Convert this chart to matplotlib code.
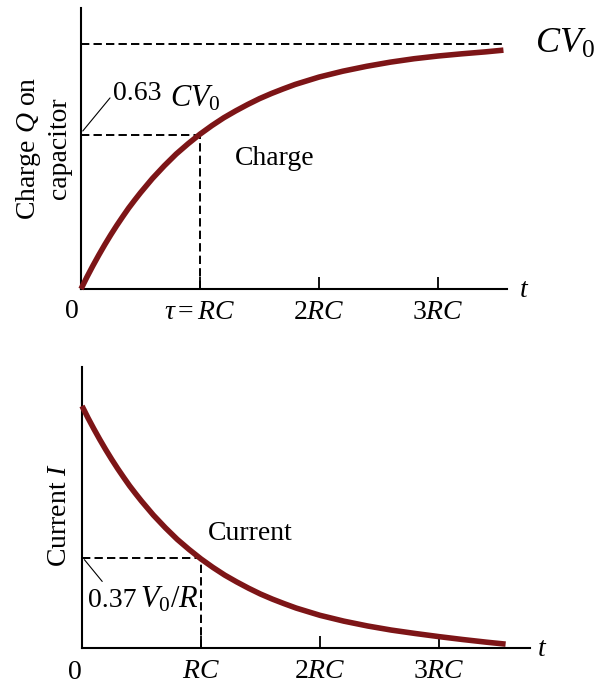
import matplotlib
matplotlib.use("Agg")
import matplotlib.pyplot as plt

plt.rcParams['font.family'] = ['Liberation Serif', 'DejaVu Serif']
plt.rcParams['mathtext.fontset'] = 'custom'
plt.rcParams['mathtext.rm'] = 'Liberation Serif'
plt.rcParams['mathtext.it'] = 'Liberation Serif:italic'
plt.rcParams['mathtext.bf'] = 'Liberation Serif:bold'
plt.rcParams['lines.scale_dashes'] = False

# ---- data (time in units of RC) ----
t_charge = [0, 0.05, 0.1, 0.15, 0.2, 0.25, 0.3, 0.35, 0.4, 0.45, 0.5, 0.6, 0.7, 0.8,
            0.9, 1.0, 1.1, 1.2, 1.3, 1.4, 1.5, 1.6, 1.7, 1.8, 1.9, 2.0, 2.2, 2.4,
            2.6, 2.8, 3.0, 3.2, 3.4, 3.55]
q_charge = [0, 0.049, 0.095, 0.139, 0.181, 0.221, 0.259, 0.295, 0.330, 0.362, 0.393,
            0.451, 0.503, 0.551, 0.593, 0.632, 0.667, 0.699, 0.727, 0.753, 0.777,
            0.798, 0.817, 0.835, 0.850, 0.865, 0.889, 0.909, 0.926, 0.940, 0.951,
            0.960, 0.968, 0.975]
t_current = [0, 0.05, 0.1, 0.15, 0.2, 0.25, 0.3, 0.35, 0.4, 0.45, 0.5, 0.6, 0.7, 0.8,
             0.9, 1.0, 1.1, 1.2, 1.3, 1.4, 1.5, 1.6, 1.7, 1.8, 1.9, 2.0, 2.2, 2.4,
             2.6, 2.8, 3.0, 3.2, 3.4, 3.56]
i_current = [1.0, 0.951, 0.905, 0.861, 0.819, 0.779, 0.741, 0.705, 0.670, 0.638, 0.607,
             0.549, 0.497, 0.449, 0.407, 0.368, 0.333, 0.301, 0.273, 0.247, 0.223,
             0.202, 0.183, 0.165, 0.150, 0.135, 0.111, 0.091, 0.074, 0.060, 0.047,
             0.035, 0.024, 0.016]
tick_pos = [1, 2, 3]
tick_labels_top = [r'$\tau = RC$', r'$2RC$', r'$3RC$']
tick_labels_bot = [r'$RC$', r'$2RC$', r'$3RC$']
q_max = 1.0
q_tau = 0.63
i_tau = 0.37

curve_color = '#7d1517'
FS = 20

fig = plt.figure(figsize=(5.95, 6.85), dpi=100)
W, H = 595, 685
ax1 = fig.add_axes([81 / W, (H - 289) / H, (507 - 81) / W, (289 - 8) / H])
ax2 = fig.add_axes([82 / W, (H - 648) / H, (530 - 82) / W, (648 - 367) / H])

for ax in (ax1, ax2):
    for s in ('top', 'right'):
        ax.spines[s].set_visible(False)
    for s in ('left', 'bottom'):
        ax.spines[s].set_linewidth(1.5)
    ax.set_yticks([])
    ax.set_xticks(tick_pos)
    ax.tick_params(axis='x', direction='in', length=9, width=1.3, pad=8,
                   labelsize=FS)

ax1.set_xlim(0, 3.58)
ax1.set_ylim(0, 1.147)
ax2.set_xlim(0, 3.765)
ax2.set_ylim(0, 1.161)
ax1.set_xticklabels(tick_labels_top)
ax2.set_xticklabels(tick_labels_bot)

dash = (6, 3)
DLW = 1.4
# ---- top: charge ----
ax1.plot([0, t_charge[-1]], [q_max, q_max], color='black', lw=DLW, dashes=dash, clip_on=False)
ax1.plot([0, 1], [q_tau, q_tau], color='black', lw=DLW, dashes=dash)
ax1.plot([1, 1], [0, q_tau], color='black', lw=DLW, dashes=dash)
ax1.plot(t_charge, q_charge, color=curve_color, lw=4, solid_capstyle='butt',
         solid_joinstyle='round', clip_on=False, zorder=3)

ax1.text(3.815, 0.963, r'$CV_{\mathit{0}}$', fontsize=26, va='baseline', ha='left', clip_on=False)
ax1.text(0.269, 0.771, '0.63', fontsize=FS, va='baseline', ha='left')
ax1.text(0.748, 0.743, r'$CV_{\mathit{0}}$', fontsize=22, va='baseline', ha='left')
ax1.annotate('', xy=(0.015, q_tau + 0.015), xytext=(0.244, 0.78),
             arrowprops=dict(arrowstyle='-', lw=0.8, color='black', shrinkA=0, shrinkB=0))
ax1.text(1.29, 0.506, 'Charge', fontsize=FS, va='baseline', ha='left')
ax1.text(-0.021, 0.5, 'Charge $Q$ on\ncapacitor', fontsize=FS, rotation=90,
         ha='right', va='center', multialignment='center', transform=ax1.transAxes)
ax1.text(3.72, -0.005, '$t$', fontsize=FS, ha='center', va='center', clip_on=False)
ax1.text(-0.08, -0.09, '0', fontsize=FS, ha='center', va='center', clip_on=False)

# ---- bottom: current ----
ax2.plot([0, 1], [i_tau, i_tau], color='black', lw=DLW, dashes=dash)
ax2.plot([1, 1], [0, i_tau], color='black', lw=DLW, dashes=dash)
ax2.plot(t_current, i_current, color=curve_color, lw=4, solid_capstyle='butt',
         solid_joinstyle='round', clip_on=False, zorder=3)
ax2.text(0.05, 0.169, '0.37', fontsize=FS, va='baseline', ha='left')
ax2.text(0.487, 0.169, r'$V_{\mathit{0}}/R$', fontsize=22, va='baseline', ha='left')
ax2.annotate('', xy=(0.02, i_tau - 0.005), xytext=(0.17, 0.275),
             arrowprops=dict(arrowstyle='-', lw=0.8, color='black', shrinkA=0, shrinkB=0))
ax2.text(1.06, 0.446, 'Current', fontsize=FS, va='baseline', ha='left')
ax2.text(-0.022, 0.473, 'Current $I$', fontsize=FS, rotation=90,
         ha='right', va='center', transform=ax2.transAxes)
ax2.text(3.87, -0.008, '$t$', fontsize=FS, ha='center', va='center', clip_on=False)
ax2.text(-0.06, -0.1, '0', fontsize=FS, ha='center', va='center', clip_on=False)

fig.savefig('out.png', dpi=100)
